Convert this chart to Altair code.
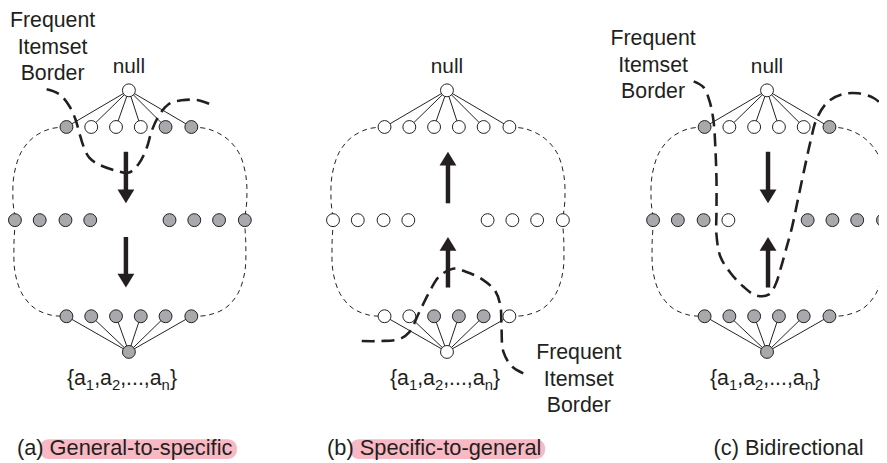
import altair as alt
import pandas as pd

# ---------------- data ----------------
panel_ids = ["a", "b", "c"]
panel_centers = [130, 451, 774]
arrow_x = [127, 452, 775]
arrow_dirs = [["down", "down"], ["up", "up"], ["down", "up"]]
captions = ["(a) General-to-specific", "(b) Specific-to-general", "(c) Bidirectional"]
caption_x = [17, 330, 720]
highlight_x = [40, 353, None]
highlight_x2 = [239, 550, None]

# 1 = frequent (shaded), 0 = infrequent (open)
null_state = [0, 0, 0]
level1_state = [[1, 0, 0, 0, 1, 1], [0, 0, 0, 0, 0, 0], [1, 0, 0, 0, 0, 1]]
middle_state = [[1, 1, 1, 1, 1, 1, 1, 1], [0, 0, 0, 0, 0, 0, 0, 0], [1, 1, 1, 0, 1, 1, 1, 1]]
bottom_state = [[1, 1, 1, 1, 1, 1], [0, 0, 1, 1, 1, 0], [1, 1, 1, 1, 1, 1]]
full_state = [1, 0, 1]

border_label_x = [53, 584, 659]
border_label_y = [25, 360, 43]
border_words = ["Frequent", "Itemset", "Border"]

border_a_x = [47, 60, 70, 76, 80, 84, 90, 100, 117, 130, 140, 148, 153, 160, 170, 183, 200, 217]
border_a_y = [88, 93, 105, 118, 132, 145, 157, 164, 170, 172, 163, 147, 130, 115, 103, 99, 99, 105]
border_b_x = [365, 383, 403, 413, 423, 433, 443, 457, 470, 487, 500, 505, 506, 508, 517, 533]
border_b_y = [342, 342, 340, 333, 313, 293, 277, 269, 272, 280, 292, 307, 327, 353, 368, 377]
border_c_x = [700, 710, 716, 720, 722, 723, 723, 723, 727, 737, 750, 763, 776, 783, 788, 793, 799, 805,
              812, 818, 824, 835, 850, 866, 882, 893, 899]
border_c_y = [80, 86, 100, 120, 150, 180, 210, 235, 257, 273, 287, 296, 295, 284, 268, 250, 228, 200,
              167, 140, 118, 101, 93, 92, 97, 108, 125]

# ---------------- layout ----------------
Y_NULL, Y_TOP, Y_MID, Y_BOT, Y_FULL = 89, 126, 220, 317, 353
top_dx = [-63, -38, -13, 12, 37, 63]
mid_dx = [-115, -90, -64, -39, 41, 66, 91, 117]
outline_left = [(-63, 126), (-80, 128), (-97, 137), (-109, 152), (-116, 175), (-117, 200), (-115, 220),
                (-116, 245), (-115, 272), (-108, 294), (-95, 309), (-78, 316), (-63, 317)]
outline_right = [(63, 126), (80, 128), (98, 137), (111, 152), (118, 175), (119, 200), (117, 220),
                 (118, 245), (117, 272), (110, 294), (97, 309), (79, 316), (63, 317)]

DARK = "#231f20"
GRAY = "#a7a9ac"
PINK = "#f8b9c5"
FONT = "Liberation Sans"

nodes, edges, outline, arrows_shaft, arrows_head = [], [], [], [], []
for p, cx in enumerate(panel_centers):
    nodes.append(dict(x=cx, y=Y_NULL, s=null_state[p]))
    for dx, s in zip(top_dx, level1_state[p]):
        nodes.append(dict(x=cx + dx, y=Y_TOP, s=s))
        edges.append(dict(x=cx, y=Y_NULL, x2=cx + dx, y2=Y_TOP))
    for dx, s in zip(mid_dx, middle_state[p]):
        nodes.append(dict(x=cx + dx, y=Y_MID, s=s))
    for dx, s in zip(top_dx, bottom_state[p]):
        nodes.append(dict(x=cx + dx, y=Y_BOT, s=s))
        edges.append(dict(x=cx, y=Y_FULL, x2=cx + dx, y2=Y_BOT))
    nodes.append(dict(x=cx, y=Y_FULL, s=full_state[p]))
    for side, pts in (("L", outline_left), ("R", outline_right)):
        for i, (dx, yy) in enumerate(pts):
            outline.append(dict(g=f"{p}{side}", i=i, x=cx + dx, y=yy))
    ax = arrow_x[p]
    for (tail_tip, d) in zip([(151, 203), (237, 288)], arrow_dirs[p]):
        a, b = tail_tip
        if d == "down":
            tail, tip = a, b
            arrows_shaft.append(dict(x=ax, y=tail, y2=tip - 10))
            arrows_head.append(dict(x=ax, y=tip - 7, d=d))
        else:
            tail, tip = b, a
            arrows_shaft.append(dict(x=ax, y=tail, y2=tip + 10))
            arrows_head.append(dict(x=ax, y=tip + 7, d=d))

borders = []
for gname, xs, ys in (("a", border_a_x, border_a_y), ("b", border_b_x, border_b_y), ("c", border_c_x, border_c_y)):
    for i, (xx, yy) in enumerate(zip(xs, ys)):
        borders.append(dict(g=gname, i=i, x=xx, y=yy))

# centred texts
ctext = []
for p, cx in enumerate(panel_centers):
    ctext.append(dict(x=cx, y=72, t="null", fs=21))
    for k, w in enumerate(border_words):
        ctext.append(dict(x=border_label_x[p], y=border_label_y[p] + 27 * k, t=w, fs=21.5))

# left-aligned texts: captions + subscripted itemset label
ltext = []
for p in range(3):
    ltext.append(dict(x=caption_x[p], y=457, t=captions[p], fs=22))
W = {"{": 0.334, "}": 0.334, "a": 0.556, ",": 0.278, ".": 0.278, "1": 0.556, "2": 0.556, "n": 0.556}
pieces = [("{a", 0), ("1", 1), (",a", 0), ("2", 1), (",...,a", 0), ("n", 1), ("}", 0)]
MAIN, SUB = 21.5, 15
total = sum(sum(W[c] for c in s) * (SUB if sub else MAIN) for s, sub in pieces)
label_cx = [123, 449, 772]
for p in range(3):
    x0 = label_cx[p] - total / 2
    for s, sub in pieces:
        fs = SUB if sub else MAIN
        ltext.append(dict(x=x0, y=391 if sub else 386, t=s, fs=fs))
        x0 += sum(W[c] for c in s) * fs

hl = [dict(x=highlight_x[p], x2=highlight_x2[p], y=441, y2=461) for p in range(3) if highlight_x[p] is not None]

# ---------------- chart ----------------
X = alt.Scale(domain=[8, 887], nice=False, zero=False)
Y = alt.Scale(domain=[8, 463], nice=False, zero=False, reverse=True)


def xy(xf="x", yf="y"):
    return dict(x=alt.X(f"{xf}:Q", scale=X, axis=None), y=alt.Y(f"{yf}:Q", scale=Y, axis=None))


hl_layer = alt.Chart(pd.DataFrame(hl)).mark_rect(color=PINK, cornerRadius=9).encode(
    **xy(), x2="x2:Q", y2="y2:Q")

edge_layer = alt.Chart(pd.DataFrame(edges)).mark_rule(color=DARK, strokeWidth=1).encode(
    **xy(), x2="x2:Q", y2="y2:Q")

outline_layer = alt.Chart(pd.DataFrame(outline)).mark_line(
    color=DARK, strokeWidth=1, strokeDash=[5, 4], interpolate="catmull-rom").encode(
    **xy(), detail="g:N", order="i:Q")

border_layer = alt.Chart(pd.DataFrame(borders)).mark_line(
    color=DARK, strokeWidth=2.6, strokeDash=[13, 7], interpolate="catmull-rom").encode(
    **xy(), detail="g:N", order="i:Q")

shaft_layer = alt.Chart(pd.DataFrame(arrows_shaft)).mark_rule(color=DARK, strokeWidth=4.5).encode(
    **xy(), y2="y2:Q")

DOWN = "M-1,-0.82L1,-0.82L0,0.82Z"
UP = "M-1,0.82L1,0.82L0,-0.82Z"
head_layer = alt.Chart(pd.DataFrame(arrows_head)).mark_point(
    filled=True, color=DARK, size=289, opacity=1).encode(
    **xy(), shape=alt.Shape("d:N", scale=alt.Scale(domain=["down", "up"], range=[DOWN, UP]), legend=None))

node_layer = alt.Chart(pd.DataFrame(nodes)).mark_point(
    shape="circle", filled=True, size=169, stroke=DARK, strokeWidth=1, opacity=1).encode(
    **xy(), fill=alt.Fill("s:N", scale=alt.Scale(domain=[0, 1], range=["#ffffff", GRAY]), legend=None))

ctext_layer = alt.Chart(pd.DataFrame(ctext)).mark_text(
    align="center", baseline="alphabetic", font=FONT, color=DARK).encode(
    **xy(), text="t:N", size=alt.Size("fs:Q", scale=None))

ltext_layer = alt.Chart(pd.DataFrame(ltext)).mark_text(
    align="left", baseline="alphabetic", font=FONT, color=DARK).encode(
    **xy(), text="t:N", size=alt.Size("fs:Q", scale=None))

chart = alt.layer(
    hl_layer, edge_layer, outline_layer, border_layer, shaft_layer, head_layer, node_layer,
    ctext_layer, ltext_layer
).properties(
    width=879, height=455, padding=0, autosize="none", background="white"
).configure_view(stroke=None)

chart.save("out.html", embed_options={"renderer": "svg", "actions": False})
